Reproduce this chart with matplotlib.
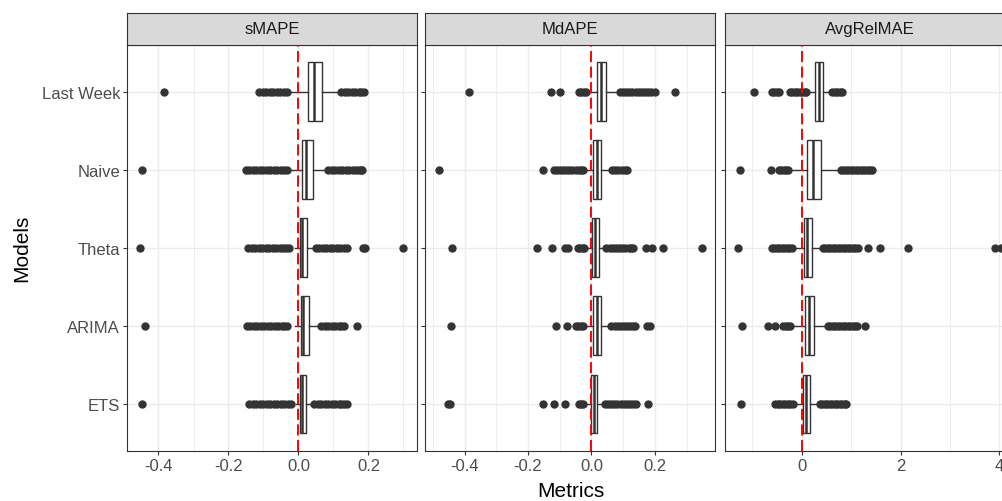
import matplotlib
matplotlib.use("Agg")
import matplotlib.pyplot as plt

plt.rcParams['font.family'] = ['Liberation Sans', 'DejaVu Sans']

# models from bottom to top of each panel
models = ["ETS", "ARIMA", "Theta", "Naive", "Last Week"]
metrics = ["sMAPE", "MdAPE", "AvgRelMAE"]

# box stats per model: whisker low, q1, median, q3, whisker high
smape_stats = [
    [-0.008, 0.004, 0.010, 0.022, 0.036],
    [-0.010, 0.006, 0.013, 0.030, 0.054],
    [-0.010, 0.005, 0.010, 0.023, 0.041],
    [-0.020, 0.011, 0.021, 0.041, 0.074],
    [-0.022, 0.027, 0.043, 0.068, 0.113],
]
smape_fliers = [
    [-0.446, -0.141, -0.131, -0.121, -0.111, -0.101, -0.091, -0.081, -0.071, -0.061, -0.051, -0.041, -0.031, -0.021,
     0.045, 0.055, 0.065, 0.075, 0.085, 0.095, 0.105, 0.115, 0.122, 0.130, 0.138],
    [-0.440, -0.148, -0.138, -0.128, -0.118, -0.108, -0.098, -0.088, -0.078, -0.068, -0.058, -0.048, -0.040, -0.032,
     0.065, 0.075, 0.085, 0.095, 0.105, 0.115, 0.122, 0.129, 0.168],
    [-0.452, -0.143, -0.133, -0.123, -0.113, -0.103, -0.093, -0.083, -0.073, -0.063, -0.053, -0.043, -0.035, -0.027,
     0.050, 0.060, 0.070, 0.080, 0.090, 0.100, 0.110, 0.120, 0.130, 0.139, 0.183, 0.190, 0.300],
    [-0.447, -0.150, -0.140, -0.130, -0.120, -0.110, -0.100, -0.090, -0.080, -0.070, -0.060, -0.050, -0.040, -0.032,
     0.085, 0.095, 0.105, 0.115, 0.125, 0.135, 0.145, 0.155, 0.163, 0.172, 0.178, 0.181],
    [-0.384, -0.112, -0.102, -0.092, -0.082, -0.072, -0.062, -0.052, -0.042, -0.032,
     0.122, 0.132, 0.142, 0.152, 0.162, 0.172, 0.180, 0.188],
]

mdape_stats = [
    [-0.015, 0.000, 0.007, 0.019, 0.031],
    [-0.016, 0.006, 0.016, 0.029, 0.052],
    [-0.012, 0.003, 0.010, 0.024, 0.037],
    [-0.016, 0.006, 0.018, 0.031, 0.054],
    [-0.008, 0.019, 0.031, 0.047, 0.079],
]
mdape_fliers = [
    [-0.452, -0.447, -0.154, -0.119, -0.083, -0.039, -0.033, -0.027,
     0.042, 0.052, 0.062, 0.072, 0.082, 0.092, 0.102, 0.112, 0.122, 0.132, 0.141, 0.178],
    [-0.442, -0.112, -0.077, -0.050, -0.042, -0.034, -0.026,
     0.063, 0.073, 0.083, 0.093, 0.103, 0.113, 0.123, 0.131, 0.138, 0.176, 0.185],
    [-0.440, -0.171, -0.123, -0.084, -0.075, -0.042, -0.035, -0.028, -0.022,
     0.047, 0.057, 0.067, 0.077, 0.087, 0.097, 0.107, 0.117, 0.125, 0.131, 0.173, 0.192, 0.227, 0.349],
    [-0.482, -0.154, -0.118, -0.110, -0.100, -0.090, -0.080, -0.070, -0.060, -0.050, -0.040, -0.032, -0.026,
     0.065, 0.075, 0.085, 0.095, 0.105, 0.112],
    [-0.385, -0.126, -0.100, -0.039, -0.032, -0.025, -0.018,
     0.089, 0.099, 0.109, 0.119, 0.129, 0.139, 0.149, 0.159, 0.169, 0.179, 0.189, 0.199, 0.265],
]

avgrel_stats = [
    [-0.09, 0.035, 0.08, 0.17, 0.30],
    [-0.16, 0.07, 0.14, 0.25, 0.47],
    [-0.12, 0.055, 0.10, 0.20, 0.37],
    [-0.21, 0.115, 0.23, 0.40, 0.72],
    [0.14, 0.27, 0.35, 0.43, 0.55],
]
avgrel_fliers = [
    [-1.23, -0.53, -0.48, -0.43, -0.38, -0.33, -0.28, -0.23, -0.18,
     0.37, 0.42, 0.47, 0.52, 0.57, 0.62, 0.67, 0.72, 0.77, 0.82, 0.87, 0.90],
    [-1.20, -0.68, -0.54, -0.37, -0.32, -0.27, -0.23,
     0.53, 0.58, 0.63, 0.68, 0.73, 0.78, 0.83, 0.88, 0.93, 0.98, 1.03, 1.08, 1.11, 1.29],
    [-1.29, -0.60, -0.55, -0.50, -0.45, -0.40, -0.35, -0.30, -0.25, -0.20,
     0.43, 0.48, 0.53, 0.58, 0.63, 0.68, 0.73, 0.78, 0.83, 0.88, 0.93, 0.98, 1.03, 1.08, 1.13,
     1.34, 1.58, 2.16, 3.91, 4.04],
    [-1.25, -0.62, -0.46, -0.41, -0.36, -0.31, -0.28,
     0.79, 0.84, 0.89, 0.94, 0.99, 1.04, 1.09, 1.14, 1.19, 1.24, 1.29, 1.34, 1.39, 1.42],
    [-0.97, -0.60, -0.55, -0.50, -0.45, -0.24, -0.19, -0.14, -0.09, -0.04, 0.01, 0.06, 0.08,
     0.62, 0.67, 0.72, 0.77, 0.81],
]

all_stats = [smape_stats, mdape_stats, avgrel_stats]
all_fliers = [smape_fliers, mdape_fliers, avgrel_fliers]

x_limits = [(-0.490, 0.338), (-0.524, 0.390), (-1.55, 4.31)]
x_major = [[-0.4, -0.2, 0.0, 0.2], [-0.4, -0.2, 0.0, 0.2], [0, 2, 4]]
x_major_labels = [["-0.4", "-0.2", "0.0", "0.2"], ["-0.4", "-0.2", "0.0", "0.2"], ["0", "2", "4"]]
x_minor = [[-0.3, -0.1, 0.1, 0.3], [-0.5, -0.3, -0.1, 0.1, 0.3], [-1, 1, 3]]

W, H = 1003, 502
fig = plt.figure(figsize=(W / 100, H / 100), dpi=100)

# panel geometry in pixels (third panel runs past the right edge, as in the source)
panel_left = [127, 425.3, 725]
panel_w = 289.8
panel_top, panel_bot = 45.7, 451.7
strip_top = 13.5

dark = '#333333'
for i, name in enumerate(metrics):
    ax = fig.add_axes([panel_left[i] / W, 1 - panel_bot / H, panel_w / W, (panel_bot - panel_top) / H])
    st = fig.add_axes([panel_left[i] / W, 1 - panel_top / H, panel_w / W, (panel_top - strip_top) / H])

    stats = []
    for s, f in zip(all_stats[i], all_fliers[i]):
        stats.append(dict(whislo=s[0], q1=s[1], med=s[2], q3=s[3], whishi=s[4], fliers=f))

    ax.bxp(stats, positions=range(1, len(models) + 1), widths=0.75, orientation='horizontal',
           patch_artist=True, showcaps=False,
           boxprops=dict(facecolor='white', edgecolor=dark, linewidth=1.0),
           whiskerprops=dict(color=dark, linewidth=1.0),
           medianprops=dict(color=dark, linewidth=1.8),
           flierprops=dict(marker='o', markerfacecolor=dark, markeredgecolor=dark,
                           markersize=5.0, linestyle='none'))

    ax.axvline(0, color='red', linewidth=1.4, linestyle=(0, (5.7, 2.3)), zorder=6)

    ax.set_xlim(*x_limits[i])
    ax.set_ylim(0.4, len(models) + 0.6)
    ax.set_xticks(x_major[i])
    ax.set_xticklabels(x_major_labels[i])
    ax.set_xticks(x_minor[i], minor=True)
    ax.set_yticks(range(1, len(models) + 1))
    if i == 0:
        ax.set_yticklabels(models)
    else:
        ax.set_yticklabels([])
        ax.tick_params(axis='y', length=0)
    ax.set_axisbelow(True)
    ax.grid(True, which='major', color='#EBEBEB', linewidth=1.0)
    ax.grid(True, which='minor', axis='x', color='#EBEBEB', linewidth=0.6)
    ax.tick_params(which='major', length=3, width=0.8, color=dark, labelcolor='#4D4D4D',
                   labelsize=12, pad=2)
    ax.tick_params(which='minor', length=0)
    for sp in ax.spines.values():
        sp.set_color(dark)
        sp.set_linewidth(0.8)

    st.set_facecolor('#D9D9D9')
    st.set_xticks([])
    st.set_yticks([])
    for sp in st.spines.values():
        sp.set_color(dark)
        sp.set_linewidth(0.8)
    st.text(0.5, 0.5, name, transform=st.transAxes, ha='center', va='center',
            fontsize=12, color='#1A1A1A')

fig.text(21.5 / W, 1 - 248 / H, "Models", rotation=90, ha='center', va='center', fontsize=15)
fig.text(571 / W, 1 - 497 / H, "Metrics", ha='center', va='baseline', fontsize=15)

fig.savefig("out.png", dpi=100)
